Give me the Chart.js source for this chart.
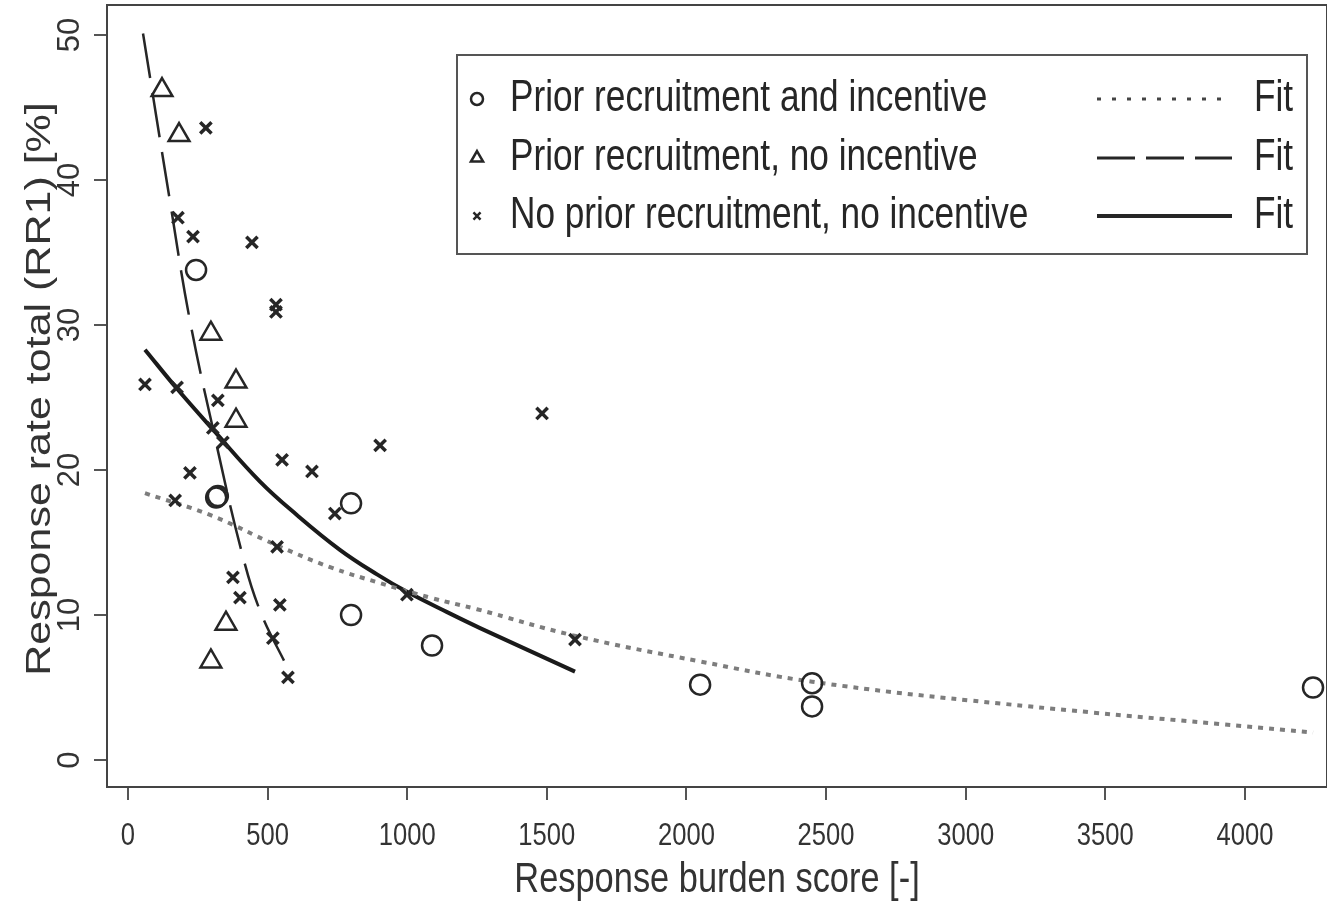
<!DOCTYPE html>
<html>
<head>
<meta charset="utf-8">
<script src="https://cdn.jsdelivr.net/npm/chart.js@4.4.1/dist/chart.umd.min.js"></script>
<style>
  body { margin: 0; background: #fff; }
  canvas { display: block; }
</style>
</head>
<body>
<canvas id="chart" width="1327" height="901"></canvas>
<script>
// points: prior recruitment and incentive (circles)
const incentiveX = [244, 316, 322, 799, 799, 1089, 2049, 2450, 2450, 4244]
const incentiveY = [33.8, 18.1, 18.2, 17.7, 10.0, 7.9, 5.2, 5.3, 3.7, 5.0]

// points: prior recruitment, no incentive (triangles)
const noIncentiveX = [122, 183, 297, 387, 387, 351, 297]
const noIncentiveY = [46.2, 43.1, 29.4, 26.1, 23.4, 9.4, 6.8]

// points: no prior recruitment, no incentive (crosses)
const noPriorX = [279, 179, 233, 444, 530, 530, 61, 176, 322, 304, 340, 552, 659, 903, 222, 169,
    741, 534, 376, 401, 544, 519, 573, 999, 1483, 1601]
const noPriorY = [43.6, 37.4, 36.1, 35.7, 31.4, 30.9, 25.9, 25.7, 24.8, 22.9, 21.9, 20.7, 19.9, 21.7, 19.8, 17.9,
    17.0, 14.7, 12.6, 11.2, 10.7, 8.4, 5.7, 11.4, 23.9, 8.3]

// fitted curves
const fitIncentiveX = [61, 294, 534, 724, 903, 1082, 1250, 1594, 2049, 2450, 3123, 4244]
const fitIncentiveY = [18.4, 16.9, 14.8, 13.3, 12.2, 11.2, 10.4, 8.6, 6.8, 5.4, 3.9, 1.9]

const fitNoIncentiveX = [54, 150, 222, 319, 408, 473, 573]
const fitNoIncentiveY = [50.1, 38.6, 30.3, 21.6, 14.3, 10.3, 6.3]

const fitNoPriorX = [61, 176, 304, 473, 605, 759, 892, 999, 1143, 1261, 1601]
const fitNoPriorY = [28.3, 25.6, 22.8, 19.2, 16.9, 14.5, 12.8, 11.6, 10.2, 9.1, 6.1]

// axes
const xTicks = [0, 500, 1000, 1500, 2000, 2500, 3000, 3500, 4000]
const yTicks = [0, 10, 20, 30, 40, 50]
const xMin = -75
const xMax = 4294
const yMin = -1.86
const yMax = 52.07

const xTitle = 'Response burden score [-]'
const yTitle = 'Response rate total (RR1) [%]'
const legendLabels = ['Prior recruitment and incentive', 'Prior recruitment, no incentive', 'No prior recruitment, no incentive']
const fitLabel = 'Fit'

const ink = '#262626'
const textInk = '#333'

const toPoints = (xs, ys) => xs.map((x, i) => ({ x: x, y: ys[i] }))

// the original picture is squashed sideways, so text is drawn narrowed
const squeezedText = (ctx, text, x, y, size, align, rotated, squeeze) => {
    ctx.save()
    ctx.translate(x, y)
    if (rotated) {
        ctx.rotate(-Math.PI / 2)
        ctx.scale(1, squeeze)
    } else {
        ctx.scale(squeeze, 1)
    }
    ctx.font = size + 'px "Liberation Sans", Arial, sans-serif'
    ctx.textAlign = align
    ctx.textBaseline = 'middle'
    ctx.fillText(text, 0, 0)
    ctx.restore()
}

// box round the plot, axis labels and the legend
const framePlugin = {
    id: 'frame',
    afterDraw(chart) {
        const ctx = chart.ctx
        const area = chart.chartArea
        const xScale = chart.scales.x
        const yScale = chart.scales.y
        ctx.save()
        ctx.strokeStyle = '#444'
        ctx.lineWidth = 2
        ctx.strokeRect(area.left, area.top, area.right - area.left, area.bottom - area.top)

        ctx.fillStyle = textInk
        yScale.ticks.forEach((t) => {
            squeezedText(ctx, String(t.value), 70, yScale.getPixelForValue(t.value), 31, 'center', true, 1)
        })
        xScale.ticks.forEach((t) => {
            squeezedText(ctx, String(t.value), xScale.getPixelForValue(t.value), 836, 32, 'center', false, 0.8)
        })
        squeezedText(ctx, xTitle, (area.left + area.right) / 2, 880, 43, 'center', false, 0.8)
        squeezedText(ctx, yTitle, 41, 389, 43, 'center', true, 0.8)

        // legend
        ctx.fillStyle = '#fff'
        ctx.fillRect(457, 55, 850, 199)
        ctx.strokeStyle = '#555'
        ctx.lineWidth = 2
        ctx.strokeRect(457, 55, 850, 199)

        const rows = [99, 158, 216]
        const symbols = [
            { pointStyle: 'circle', radius: 6, borderWidth: 2.5, rotation: 0 },
            { pointStyle: 'triangle', radius: 7, borderWidth: 2.5, rotation: 0 },
            { pointStyle: 'crossRot', radius: 5, borderWidth: 2.5, rotation: 0 },
        ]
        const lines = [
            { dash: [4, 11], width: 3, color: '#444' },
            { dash: [38, 11], width: 3, color: ink },
            { dash: [], width: 4, color: ink },
        ]
        rows.forEach((ry, i) => {
            ctx.strokeStyle = ink
            ctx.fillStyle = 'rgba(0,0,0,0)'
            ctx.lineWidth = symbols[i].borderWidth
            ctx.setLineDash([])
            Chart.helpers.drawPoint(ctx, symbols[i], 477, ry)

            ctx.fillStyle = ink
            squeezedText(ctx, legendLabels[i], 510, ry, 44, 'left', false, 0.8)
            squeezedText(ctx, fitLabel, 1254, ry, 44, 'left', false, 0.8)

            ctx.beginPath()
            ctx.strokeStyle = lines[i].color
            ctx.lineWidth = lines[i].width
            ctx.setLineDash(lines[i].dash)
            ctx.moveTo(1097, ry)
            ctx.lineTo(1232, ry)
            ctx.stroke()
        })
        ctx.restore()
    },
}

const axisGrid = {
    display: true,
    drawOnChartArea: false,
    drawTicks: true,
    tickLength: 13,
    color: '#555',
    lineWidth: 2,
}

new Chart(document.getElementById('chart'), {
    type: 'scatter',
    data: {
        datasets: [
            {
                label: legendLabels[0],
                data: toPoints(incentiveX, incentiveY),
                pointStyle: 'circle',
                pointRadius: 10,
                pointBorderWidth: 2.5,
                pointBorderColor: ink,
                pointBackgroundColor: 'rgba(0,0,0,0)',
            },
            {
                label: legendLabels[1],
                data: toPoints(noIncentiveX, noIncentiveY),
                pointStyle: 'triangle',
                pointRadius: 12,
                pointBorderWidth: 2.5,
                pointBorderColor: ink,
                pointBackgroundColor: 'rgba(0,0,0,0)',
            },
            {
                label: legendLabels[2],
                data: toPoints(noPriorX, noPriorY),
                pointStyle: 'crossRot',
                pointRadius: 8,
                pointBorderWidth: 3.5,
                pointBorderColor: ink,
            },
            {
                label: 'Fit 1',
                data: toPoints(fitIncentiveX, fitIncentiveY),
                showLine: true,
                pointRadius: 0,
                borderColor: '#7d7d7d',
                borderWidth: 4,
                borderDash: [5, 6],
                tension: 0.4,
            },
            {
                label: 'Fit 2',
                data: toPoints(fitNoIncentiveX, fitNoIncentiveY),
                showLine: true,
                pointRadius: 0,
                borderColor: ink,
                borderWidth: 2.5,
                borderDash: [45, 15],
                tension: 0.4,
            },
            {
                label: 'Fit 3',
                data: toPoints(fitNoPriorX, fitNoPriorY),
                showLine: true,
                pointRadius: 0,
                borderColor: '#1a1a1a',
                borderWidth: 4,
                tension: 0.4,
            },
        ],
    },
    options: {
        responsive: false,
        animation: false,
        devicePixelRatio: 1,
        events: [],
        layout: { autoPadding: false, padding: { top: 5, right: 0, bottom: 0, left: 0 } },
        plugins: {
            legend: { display: false },
            tooltip: { enabled: false },
        },
        scales: {
            x: {
                type: 'linear',
                min: xMin,
                max: xMax,
                afterBuildTicks: (s) => { s.ticks = xTicks.map((v) => ({ value: v })) },
                afterFit: (s) => { s.height = 114 },
                grid: axisGrid,
                border: { display: false },
                ticks: { display: false },
            },
            y: {
                type: 'linear',
                min: yMin,
                max: yMax,
                afterBuildTicks: (s) => { s.ticks = yTicks.map((v) => ({ value: v })) },
                afterFit: (s) => { s.width = 107 },
                grid: axisGrid,
                border: { display: false },
                ticks: { display: false },
            },
        },
    },
    plugins: [framePlugin],
})
</script>
</body>
</html>
